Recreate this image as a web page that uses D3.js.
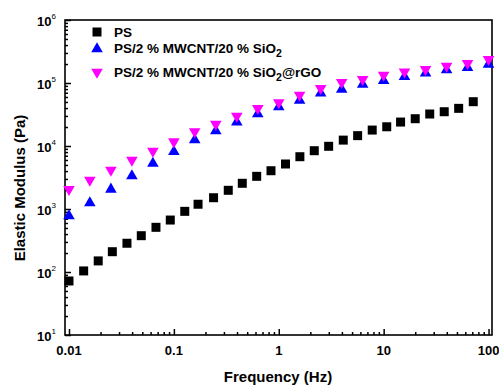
<!DOCTYPE html>
<html>
<head>
<meta charset="utf-8">
<script src="https://cdn.jsdelivr.net/npm/d3@7"></script>
<style>
  body { margin: 0; background: #fff; }
  text { font-family: "Liberation Sans", Arial, sans-serif; font-weight: bold; fill: #000; }
</style>
</head>
<body>
<div id="chart"></div>
<script>
const freqPS = [0.01, 0.0138, 0.019, 0.0259, 0.0357, 0.0489, 0.0675, 0.0924, 0.127, 0.170,
    0.239, 0.330, 0.449, 0.616, 0.843, 1.16, 1.59, 2.18, 2.99, 4.12,
    5.65, 7.78, 10.7, 14.5, 20.0, 27.5, 37.8, 51.9, 71.5];
const modPS = [72, 104, 150, 210, 286, 377, 512, 668, 918, 1190,
    1510, 1980, 2560, 3300, 4050, 5180, 6760, 8420, 9890, 12400,
    14600, 17900, 20200, 24000, 27100, 32200, 35000, 39600, 50500];

const freqComp = [0.01, 0.0158, 0.0251, 0.0398, 0.0631, 0.1, 0.158, 0.251, 0.398, 0.631,
    1, 1.58, 2.51, 3.98, 6.31, 10, 15.8, 25.1, 39.8, 63.1, 100];
const modSiO2 = [774, 1245, 2055, 3340, 5310, 8130, 12450, 17300, 23800, 32200,
    41600, 52700, 68700, 79400, 95300, 109000, 126000, 143000, 161000, 175000, 198000];
const modRGO = [2055, 2880, 4160, 6000, 8340, 11700, 16900, 22300, 29900, 39600,
    49000, 64500, 82400, 102600, 114500, 134000, 151000, 165000, 186000, 206000, 238000];

const xTicks = [0.01, 0.1, 1, 10, 100];
const xTickLabels = ['0.01', '0.1', '1', '10', '100'];
const yTicks = [10, 100, 1000, 10000, 100000, 1000000];
const yTickExp = ['1', '2', '3', '4', '5', '6'];

const width = 499, height = 386;
const plotLeft = 65, plotRight = 492, plotTop = 20, plotBottom = 335;

const svg = d3.select('#chart').append('svg')
    .attr('width', width)
    .attr('height', height);

const x = d3.scaleLog()
    .domain([Math.pow(10, -2.038), Math.pow(10, 2.033)])
    .range([plotLeft, plotRight]);

const y = d3.scaleLog()
    .domain([10, 1e6])
    .range([plotBottom, plotTop]);

// minor tick values 2..9 per decade
const minorX = [], minorY = [];
for (let e = -2; e < 2; e++) {
    for (let m = 2; m <= 9; m++) minorX.push(m * Math.pow(10, e));
}
for (let e = 1; e < 6; e++) {
    for (let m = 2; m <= 9; m++) minorY.push(m * Math.pow(10, e));
}

function styleAxis(g) {
    g.select('.domain').remove();
    g.selectAll('line').attr('stroke', '#000').attr('stroke-width', 1.5);
}

svg.append('g')
    .attr('transform', `translate(0,${plotBottom})`)
    .call(d3.axisBottom(x).tickValues(xTicks).tickSize(-6).tickFormat(''))
    .call(styleAxis);
svg.append('g')
    .attr('transform', `translate(0,${plotBottom})`)
    .call(d3.axisBottom(x).tickValues(minorX).tickSize(-3).tickFormat(''))
    .call(styleAxis);
svg.append('g')
    .attr('transform', `translate(${plotLeft},0)`)
    .call(d3.axisLeft(y).tickValues(yTicks).tickSize(-6).tickFormat(''))
    .call(styleAxis);
svg.append('g')
    .attr('transform', `translate(${plotLeft},0)`)
    .call(d3.axisLeft(y).tickValues(minorY).tickSize(-3).tickFormat(''))
    .call(styleAxis);

// frame
svg.append('rect')
    .attr('x', plotLeft)
    .attr('y', plotTop)
    .attr('width', plotRight - plotLeft)
    .attr('height', plotBottom - plotTop)
    .attr('fill', 'none')
    .attr('stroke', '#000')
    .attr('stroke-width', 1.6);

// tick labels
svg.selectAll('.xlab')
    .data(xTicks)
    .enter().append('text')
    .attr('x', d => x(d))
    .attr('y', 355)
    .attr('text-anchor', 'middle')
    .attr('font-size', 13)
    .text((d, i) => xTickLabels[i]);

const ylab = svg.selectAll('.ylab')
    .data(yTicks)
    .enter().append('text')
    .attr('x', 56)
    .attr('y', d => y(d) + 6)
    .attr('text-anchor', 'end')
    .attr('font-size', 13);
ylab.append('tspan').text('10');
ylab.append('tspan')
    .attr('dy', -7)
    .attr('font-size', 8)
    .attr('font-weight', 'normal')
    .text((d, i) => yTickExp[i]);

// axis titles
svg.append('text')
    .attr('x', 278)
    .attr('y', 382)
    .attr('text-anchor', 'middle')
    .attr('font-size', 15)
    .text('Frequency (Hz)');

svg.append('text')
    .attr('transform', 'translate(25,188) rotate(-90)')
    .attr('text-anchor', 'middle')
    .attr('font-size', 15)
    .text('Elastic Modulus (Pa)');

// markers
const square = d3.symbol().type(d3.symbolSquare).size(81);
const tri = d3.symbol().type(d3.symbolTriangle).size(58);

svg.append('g').selectAll('path')
    .data(d3.zip(freqPS, modPS))
    .enter().append('path')
    .attr('d', square)
    .attr('transform', d => `translate(${x(d[0])},${y(d[1])})`)
    .attr('fill', '#000');

svg.append('g').selectAll('path')
    .data(d3.zip(freqComp, modSiO2))
    .enter().append('path')
    .attr('d', tri)
    .attr('transform', d => `translate(${x(d[0])},${y(d[1])})`)
    .attr('fill', '#0000ff');

svg.append('g').selectAll('path')
    .data(d3.zip(freqComp, modRGO))
    .enter().append('path')
    .attr('d', tri)
    .attr('transform', d => `translate(${x(d[0])},${y(d[1])}) rotate(180)`)
    .attr('fill', '#ff00ff');

// legend
const legend = svg.append('g');
legend.append('path').attr('d', square).attr('transform', 'translate(97,32)').attr('fill', '#000');
legend.append('path').attr('d', tri).attr('transform', 'translate(97,49)').attr('fill', '#0000ff');
legend.append('path').attr('d', tri).attr('transform', 'translate(97,72) rotate(180)').attr('fill', '#ff00ff');

legend.append('text').attr('x', 114).attr('y', 37).attr('font-size', 13.5).text('PS');

const l2 = legend.append('text').attr('x', 114).attr('y', 53).attr('font-size', 13.5);
l2.append('tspan').text('PS/2 % MWCNT/20 % SiO');
l2.append('tspan').attr('dy', 4).attr('font-size', 10.5).text('2');

const l3 = legend.append('text').attr('x', 114).attr('y', 77).attr('font-size', 13.5);
l3.append('tspan').text('PS/2 % MWCNT/20 % SiO');
l3.append('tspan').attr('dy', 4).attr('font-size', 10.5).text('2');
l3.append('tspan').attr('dy', -4).text('@rGO');
</script>
</body>
</html>
